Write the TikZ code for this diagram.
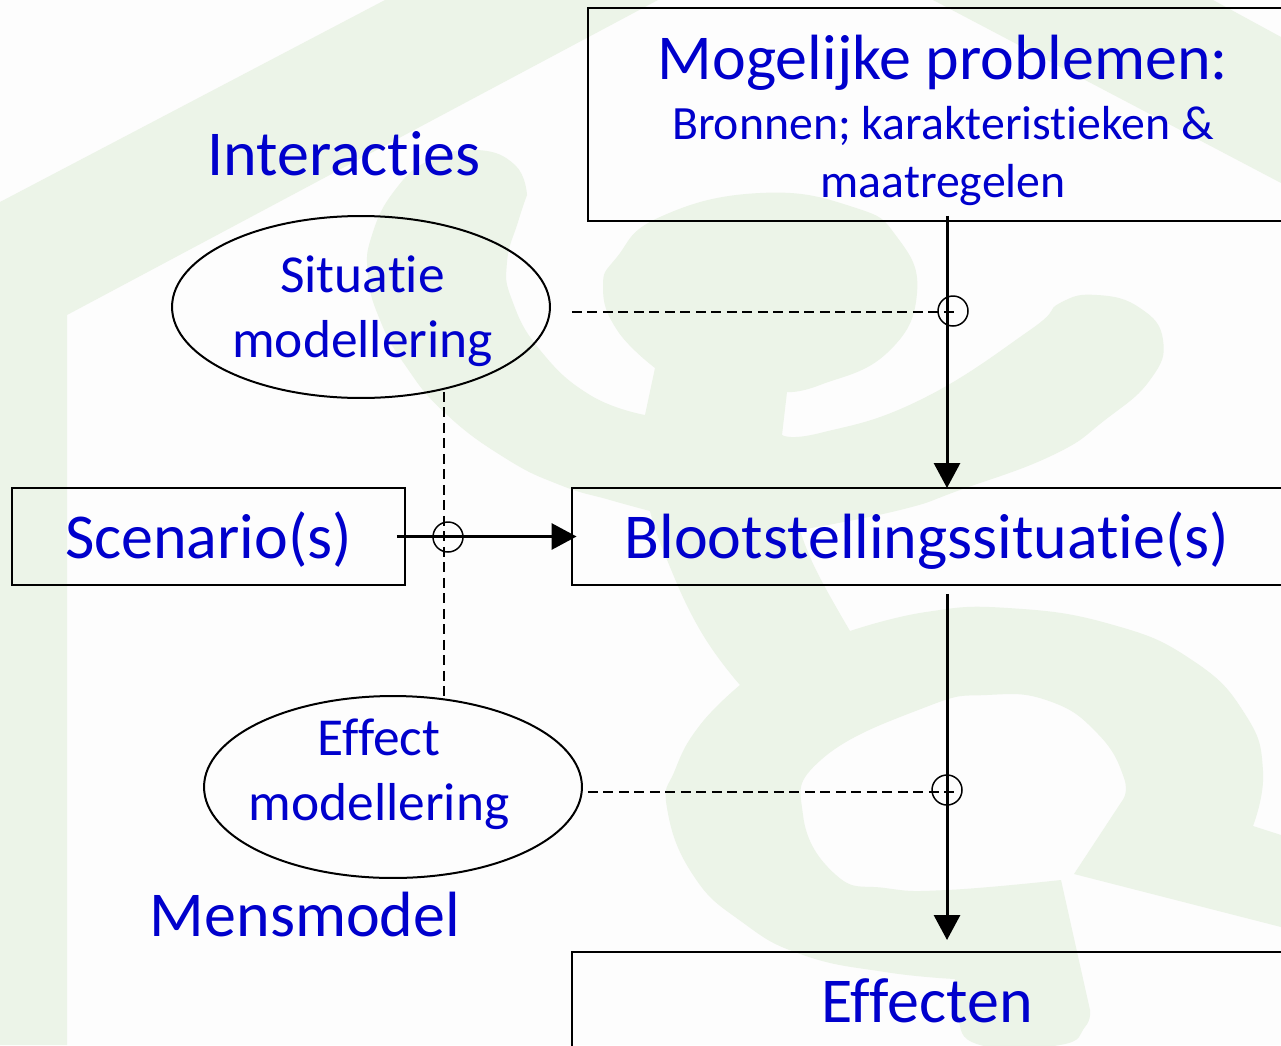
\documentclass[tikz,border=0pt]{standalone}
\usepackage{fontspec}
\setmainfont[RawFeature={-liga;-clig;-dlig}]{Carlito}
\usetikzlibrary{arrows.meta,shapes.geometric}
\definecolor{labelblue}{HTML}{0000CC}
\definecolor{watermark}{HTML}{ECF4E8}
\definecolor{paper}{HTML}{FDFDFD}
\newcommand{\bigfont}{\fontsize{36.4}{38}\selectfont}
\newcommand{\midfont}{\fontsize{30.4}{37}\selectfont}
\newcommand{\smallfont}{\fontsize{27.2}{33}\selectfont}
\begin{document}
\begin{tikzpicture}[
  x=0.02cm,
  y=-0.02cm,
  inner sep=0pt,
  outer sep=0pt,
  text=labelblue,
  box/.style={
    draw=black,
    line width=0.04cm,
    font=\bigfont,
    align=center
  },
  oval/.style={
    ellipse,
    draw=black,
    line width=0.04cm,
    minimum width=7.56cm,
    minimum height=3.64cm
  },
  ovaltext/.style={
    font=\midfont,
    align=center
  },
  heading/.style={
    font=\bigfont
  },
  joint/.style={
    circle,
    draw=black,
    line width=0.03cm,
    minimum size=0.6cm
  },
  a/.style={
    -{Triangle[length=0.5cm,width=0.52cm]},
    line width=0.06cm
  },
  dashline/.style={
    line width=0.03cm,
    dash pattern=on 0.2cm off 0.11cm
  },
  curve/.style={
    smooth,
    tension=0.8
  }
  ]

  \clip (0,0) rectangle (1281,1045);
  \fill [paper] (0,0) rectangle (1281,1045);

  % watermark: house and ampersand
  \fill [watermark] (0,202) -- (385,0) -- (658,0) -- (67,315) -- (67,1045) -- (0,1045) -- cycle;
  \fill [watermark] (933,0) -- (1281,183) -- (1281,37) -- (1213,0) -- cycle;
  \fill [watermark]
    plot [curve] coordinates {(527,195) (515,165) (477,150) (430,160) (395,190) (372,235) (368,275) (380,320) (405,365) (445,413) (505,458) (560,485) (610,500) (650,511)}
    -- plot [curve] coordinates {(650,511) (665,555) (700,630) (740,685)}
    -- plot [curve] coordinates {(740,685) (700,725) (675,770) (667,808) (693,875) (742,922) (803,955) (885,972) (955,979)}
    -- plot [curve] coordinates {(955,979) (957,1015) (980,1045) (1060,1045) (1085,1027) (1090,1010)}
    -- (1061,880)
    -- plot [curve] coordinates {(1061,880) (947,890) (885,888) (836,875) (803,815) (822,759) (926,707) (987,695) (1049,701) (1098,734) (1124,778) (1122,801)}
    -- (1074,874) -- (1281,927) -- (1281,835) -- (1253,826)
    -- plot [curve] coordinates {(1253,826) (1263,771) (1245,714) (1192,660) (1110,624) (1008,608) (926,612) (850,631)}
    -- plot [curve] coordinates {(850,631) (816,570) (800,530)}
    -- plot [curve] coordinates {(800,530) (900,510) (960,490) (1053,455) (1105,420) (1150,380) (1163,340) (1140,308) (1097,295) (1060,303) (1030,330) (920,400) (820,433) (782,435)}
    -- (787,392)
    -- plot [curve] coordinates {(787,392) (820,385) (887,353) (917,293) (897,237) (853,207) (760,193) (660,217) (617,257) (603,287) (617,330) (655,368)}
    -- (645,415)
    -- plot [curve] coordinates {(645,415) (590,395) (540,350) (512,300) (507,262) (518,222) (527,195)}
    -- cycle;

  \node (problemen) [box,minimum width=14.2cm,minimum height=4.26cm,
    label={[font=\bigfont,align=center,yshift=-0.12cm]center:Mogelijke problemen:\\[-3.6pt]\smallfont Bronnen; karakteristieken \&\\[-5pt]\smallfont maatregelen}] at (943,114.5) {};
  \node (scenario) [box,minimum width=7.86cm,minimum height=1.94cm,text height=1.14cm,text depth=0.252cm] at (208.5,536.5) {Scenario(s)};
  \node (blootstelling) [box,minimum width=14.22cm,minimum height=1.94cm,text height=1.14cm,text depth=0.252cm] at (927,536.5) {Blootstellingssituatie(s)};
  \node (effecten) [box,minimum width=14.22cm,minimum height=2.1cm,text height=1.04cm,text depth=0.32cm] at (927,1004.5) {Effecten};

  \node (situatie) [oval,label={[ovaltext,xshift=0.03cm,yshift=-0.08cm]center:Situatie\\modellering}] at (361,307) {};
  \node (effect) [oval,label={[ovaltext,xshift=-0.28cm,yshift=0.25cm]center:Effect\\modellering}] at (393,787) {};

  \node (interacties) [heading] at (344,154) {Interacties};
  \node (mensmodel) [heading] at (305,915) {Mensmodel};

  \node (joint-top) [joint] at (953,311) {};
  \node (joint-left) [joint] at (448,537) {};
  \node (joint-bottom) [joint] at (947,790) {};

  \coordinate (flow-x) at (947,0);
  \coordinate (link-x) at (444,0);

  \draw [a,shorten <=-0.1cm] (problemen.south -| flow-x) to (blootstelling.north -| flow-x);
  \draw [a,shorten <=0.18cm,shorten >=0.24cm] (blootstelling.south -| flow-x) to (effecten.north -| flow-x);
  \draw [a,shorten <=-0.16cm,shorten >=-0.1cm] (scenario.east) to (blootstelling.west);
  \draw [dashline,transform canvas={yshift=-0.02cm},shorten <=0.44cm,shorten >=-0.02cm] (situatie.east |- joint-top) to (joint-top.center);
  \draw [dashline,transform canvas={yshift=-0.04cm},shorten <=0.12cm,shorten >=-0.24cm] (effect.east |- joint-bottom) to (joint-bottom.center);
  \draw [dashline,shorten <=-0.12cm] (situatie.south -| link-x) to (effect.north -| link-x);
\end{tikzpicture}
\end{document}
